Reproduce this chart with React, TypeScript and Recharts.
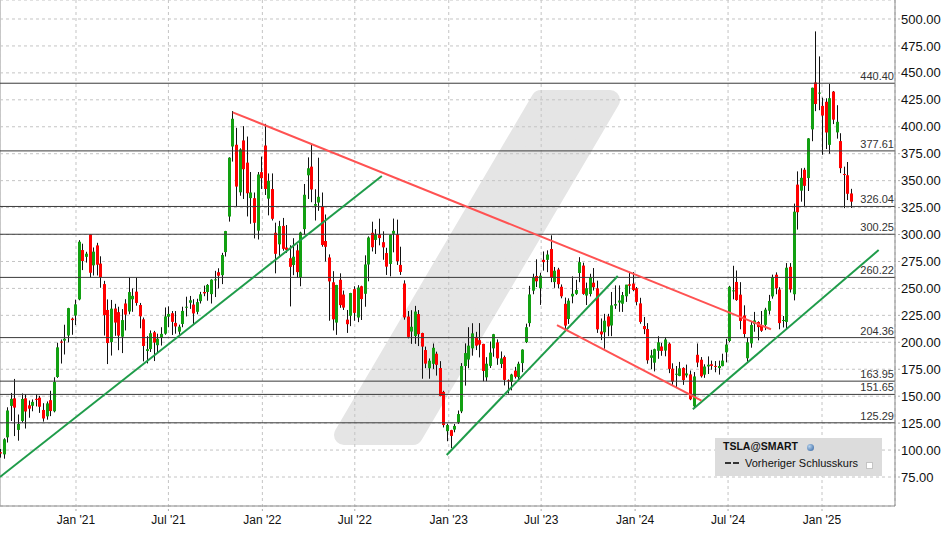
import React from 'react';
import {
  ComposedChart,
  Bar,
  XAxis,
  YAxis,
  CartesianGrid,
  ReferenceLine,
} from 'recharts';

const FONT = '"Liberation Sans", Arial, Helvetica, sans-serif';
const DAY = 86400000;

// weekly candles [open, high, low, close], one per week, first week ends Fri Aug 7 2020
const weeks2020 = [
  [98, 101, 93, 96.8], [96, 111, 92, 110], [111.8, 139.7, 107, 136.7], [141, 153, 127, 147.5],
  [148, 166, 113, 139.4], [118.7, 133, 108.7, 124.2], [127, 152.5, 125.5, 147.4], [148, 152, 120, 135.8],
  [141.5, 146, 130, 138.4], [141.1, 147, 136, 144.7], [147.5, 152, 140.5, 146.6], [148.6, 150.3, 134.5, 140.2],
  [137.2, 143.5, 126.4, 129.3], [131.3, 145.1, 128.2, 143.3], [146.3, 155, 131.5, 136.2], [136, 167.5, 135, 163.2],
  [167.8, 199.6, 167, 195.3], [200.7, 202.6, 180.3, 199.7], [201.6, 216.3, 188.7, 203.3], [206.3, 232, 200, 231.7],
  [222, 223, 207, 220.6], [224.8, 239.6, 216, 235.2],
];
const weeks2021 = [
  [239.8, 294.8, 239, 293.3], [285.6, 291.5, 267, 275.4], [279.3, 284, 274, 282.2], [300.1, 300.2, 260, 264.5],
  [271.4, 288, 262, 284.1], [289.9, 292.3, 262, 272], [273, 279.8, 250.6, 260.4], [254, 257, 206.3, 225.2],
  [230, 239.8, 179.8, 199.3], [200.2, 239.3, 187.7, 231.2], [231.3, 235.7, 206, 218.3], [228, 233, 192.7, 206.2],
  [205.2, 230.8, 190, 220.6], [236, 240, 211, 225.7], [228.6, 260.3, 226, 246.6], [239.9, 250, 228.3, 243.1],
  [247, 260, 234, 236.5], [234.6, 236.5, 213, 224.1], [221.3, 223, 182.3, 196.6], [191.9, 205.7, 180.4, 193.6],
  [193.7, 211, 191, 208.4], [209.3, 210.6, 182.6, 199.7], [197.3, 208, 190, 203.3], [204, 214, 197, 207.8],
  [208, 232.3, 207, 224], [223.7, 233.3, 214, 226.3], [227, 229, 206.8, 219], [218, 229, 208, 214.7],
  [209.9, 216.4, 207, 214.5], [217, 233, 214, 229.1], [233, 242.3, 224, 233], [236.7, 243, 231, 239],
  [235, 240, 216.2, 226.8], [228.3, 240.4, 226, 237.3], [238.2, 246.8, 236, 244.5], [246.7, 252.6, 242.8, 245.4],
  [246.7, 254, 238.6, 253.2], [244.7, 258.5, 236, 258.1], [257.7, 266.3, 242, 258.4], [265, 268.7, 250, 261.8],
  [262.3, 283, 254, 281], [283.7, 303.4, 279.6, 303.2], [316.7, 371.7, 312, 371.3], [381.7, 414.5, 367.7, 407.4],
  [383.3, 399, 326, 344.5], [339.2, 380, 336, 379], [387.3, 400.6, 333, 360.6], [366.7, 390.9, 316.8, 338.3],
  [333.8, 358, 310, 339], [333.7, 339, 296.4, 310.9], [303.6, 358, 295.4, 355.7], [357.9, 372.3, 342.3, 352.3],
];
const weeks2022 = [
  [382.6, 402.7, 336.7, 342.3], [333.3, 356.7, 317.8, 349.9], [342.2, 356.7, 313, 314.6], [301.6, 311, 264, 282.1],
  [290.9, 312.7, 280, 307.8], [308, 315.4, 285, 286.7], [287.9, 308.8, 283, 285.7], [278, 290, 233.3, 270],
  [271.7, 296.6, 262.3, 279.4], [285.3, 290.9, 260, 265.1], [260.2, 302.6, 252, 301.8], [305, 346.9, 300, 336.9],
  [355, 371.6, 333, 361.5], [363, 384.3, 330, 341.8], [326.7, 342, 313, 328.3], [329.7, 371.3, 322, 335],
  [326, 339, 288.7, 290.3], [294, 318.6, 275, 288.6], [278.7, 281.6, 220, 256.5], [255.7, 266, 211, 221.3],
  [218.3, 253.3, 206.9, 253.2], [258, 264, 232, 234.5], [244.3, 248, 230, 232.2], [221, 230, 208.7, 216.8],
  [224.6, 245.9, 215, 245.7], [249.3, 252, 220, 227.3], [223, 253, 218.7, 250.8], [252, 252.5, 220.7, 240.1],
  [245, 280.7, 233, 272.2], [272.2, 298.3, 256.6, 297.2], [301.6, 311.9, 284.3, 288.2], [295, 305, 282, 300],
  [300, 314.7, 290, 296.7], [292.9, 303, 276.6, 288.1], [282.8, 287.7, 262.5, 270.2], [272.7, 299.9, 261.2, 299.7],
  [300.7, 314.8, 283.5, 303.4], [300.1, 313.8, 271.8, 275.3], [271.8, 288.7, 262.5, 265.3], [254.5, 257.5, 221, 223.1],
  [223.9, 229, 203.7, 205], [210, 229.8, 198.6, 214.4], [205.8, 233.8, 198.6, 228.5], [226.2, 229.9, 196.5, 207.5],
  [208.6, 208.9, 166.2, 196], [192.8, 196, 176, 180.2], [175.9, 185, 166.2, 182.9], [180, 198.9, 175.3, 194.9],
  [189.4, 191.3, 169.1, 179.1], [176.1, 182.5, 149.9, 150.2], [154, 155, 121, 123.2], [117.5, 124.5, 108.2, 123.2],
];
const weeks2023 = [
  [118.5, 118.8, 101.8, 113.1], [119, 124.3, 116.5, 122.4], [125.7, 136.7, 124.3, 133.4], [135.9, 180.7, 134.3, 177.9],
  [178, 199, 159.8, 190], [184, 214, 176, 196.9], [194.4, 217.7, 187.6, 208.3], [205, 209.7, 192.8, 196.9],
  [202, 217.8, 186, 197.8], [198.5, 198.6, 163.9, 173.4], [167.5, 186.2, 163.9, 180.1], [178.1, 200.7, 176.2, 190.4],
  [194.4, 207.8, 186.6, 207.5], [199.9, 202.7, 179.1, 185.1], [179.9, 191.5, 176.1, 185], [186.3, 187.7, 160, 165.1],
  [164.7, 165.5, 152.4, 164.3], [163.2, 170.8, 155.4, 170.1], [173.7, 177.2, 166.4, 168], [167.7, 182, 165, 180.1],
  [180.7, 193.5, 172.3, 193.2], [200.1, 217.3, 199.3, 214], [217.8, 252.4, 214.5, 244.4], [247.9, 263.6, 244.6, 260.5],
  [261.5, 277, 251.3, 256.6], [250.1, 264.5, 234.7, 261.8], [276.5, 284.3, 266.5, 274.4], [276.5, 285.3, 265.1, 281.4],
  [286.6, 299.3, 255.8, 260], [255.9, 269.9, 250.5, 266.4], [267.5, 269.1, 250.2, 253.9], [251.5, 253.7, 240.8, 242.7],
  [235.7, 241.5, 212.4, 215.5], [221.6, 240.8, 217, 238.6], [242.6, 261.2, 236.2, 245], [245, 258, 244, 248.5],
  [264.3, 279, 255.8, 274.4], [271.2, 273.9, 244.1, 244.9], [243.4, 255.4, 234.6, 250.2], [244.8, 263.6, 242.6, 260.5],
  [255.3, 268.9, 248, 251.1], [250.1, 257.2, 208.7, 212], [210, 222.1, 202, 207.3], [209.3, 226.4, 194.1, 220],
  [224, 226.4, 205.7, 214.7], [215.6, 246.7, 205.7, 234.3], [234, 252.8, 231, 235.5], [236.9, 252.8, 228.3, 238.8],
  [235.8, 246.7, 228.2, 243.8], [242.7, 253.3, 237.5, 253.5], [253.8, 265.1, 245, 252.5], [254.5, 265.1, 247.4, 248.5],
];
const weeks2024 = [
  [250.1, 251.3, 234.3, 237.5], [236.1, 241.3, 217.2, 218.9], [215.1, 223.5, 207.6, 212.2], [212.3, 217.8, 180.1, 183.3],
  [185.6, 193, 175, 187.9], [181.1, 194.1, 173, 193.6], [192.1, 205.6, 184.7, 200], [196.1, 199.4, 187.5, 192],
  [192.3, 204.7, 187, 202.6], [198.7, 199.8, 171.4, 175.3], [175.5, 180.5, 160.5, 163.6], [170, 178, 157.5, 170.8],
  [168.8, 181.8, 168.5, 175.8], [176.2, 176.8, 160.5, 164.9], [169.3, 179.3, 167.3, 171.1], [170.2, 173.8, 146.3, 147.1],
  [140.6, 172.4, 138.8, 168.3], [188.4, 198.9, 176.9, 181.2], [183.8, 186.3, 167.3, 168.5], [170, 179.6, 167, 177.5],
  [177.6, 186.9, 170.6, 179.2], [179.6, 183, 174.5, 178.1], [178.1, 182.6, 172.2, 177.5], [176.1, 183, 170, 178],
  [177.9, 189.4, 177.7, 183], [190.7, 203.2, 181.4, 197.9], [201.2, 252.4, 200, 251.5], [247.7, 271, 239.9, 248.2],
  [256, 266.6, 238.5, 239.2], [244.2, 255.8, 212.1, 219.8], [224.9, 234.3, 203.9, 207.7], [185.2, 203.9, 182, 200],
  [199, 219.8, 195, 216.1], [217.1, 228.2, 209.8, 220.3], [218.8, 219.5, 201.8, 214.1], [215.3, 229, 209.7, 210.7],
  [216.2, 232, 211.3, 230.3], [229.3, 244, 225.8, 238.3], [242.6, 262.8, 240.5, 260.5], [262.7, 264.9, 244.6, 250.1],
  [249, 251.1, 212.1, 217.8], [220.1, 224.4, 213.8, 220.7], [218.9, 273.5, 212.1, 269.2], [270, 273.5, 246.2, 249],
  [244.6, 328.7, 238.9, 321.2], [346.3, 358.6, 304.6, 320.7], [340.7, 361.5, 330.5, 352.6], [360.1, 361.9, 326.4, 345.2],
  [352.4, 389.5, 340.4, 389.2], [397.6, 436.3, 386.6, 436.2], [441.1, 488.5, 414.5, 421.1], [431, 465.3, 415.4, 431.7],
  [419.4, 427, 374, 410.4],
];
const weeks2025 = [
  [423.2, 426.4, 379.3, 394.7], [383.2, 439.7, 375, 426.5], [432.6, 433.2, 402.5, 406.6], [394.8, 420, 389, 404.6],
  [386.7, 394, 357, 361.6], [356.2, 363, 324.5, 355.8], [355, 367.3, 332, 337.8], [338.1, 342.4, 324.7, 330.5],
];

const firstWeekEnd = Date.UTC(2020, 7, 7);

// horizontal support / resistance levels
const levels = [440.4, 377.61, 326.04, 300.25, 260.22, 204.36, 163.95, 151.65, 125.29];

// drawn trend lines: [date, price] pairs
const greenTrends = [
  [['2020-08-05', 75.0], ['2022-08-23', 354.3]],
  [['2022-12-28', 95.4], ['2023-11-28', 261.5]],
  [['2024-04-23', 137.8], ['2025-04-22', 285.6]],
];
const redTrends = [
  [['2021-11-04', 413.4], ['2024-09-23', 212.1]],
  [['2023-08-01', 216.0], ['2024-05-10', 145.8]],
];

const yTicks = [75, 100, 125, 150, 175, 200, 225, 250, 275, 300, 325, 350, 375, 400, 425, 450, 475, 500];
const xTickDates = [
  '2021-01-01', '2021-07-01', '2022-01-01', '2022-07-01', '2023-01-01',
  '2023-07-01', '2024-01-01', '2024-07-01', '2025-01-01',
];
const MONTHS = ['Jan', 'Feb', 'Mar', 'Apr', 'May', 'Jun', 'Jul', 'Aug', 'Sep', 'Oct', 'Nov', 'Dec'];

const jan21 = Date.UTC(2021, 0, 1);
const xDomain = [jan21 - 148.84 * DAY, jan21 + 1603.96 * DAY];
const yDomain = [48.09, 517.63];

const allWeeks = [...weeks2020, ...weeks2021, ...weeks2022, ...weeks2023, ...weeks2024, ...weeks2025];
const data = allWeeks.map(([o, h, l, c], i) => ({
  t: firstWeekEnd + i * 7 * DAY,
  o,
  h,
  l,
  c,
  range: [l, h],
}));

const toTime = (d: string) => Date.parse(d);

function Candle(props: any) {
  const { x, y, width, height } = props;
  const p = props.payload ?? props;
  if (x == null || y == null) return null;
  const top = Math.min(y, y + height);
  const full = Math.abs(height);
  const ratio = p.h > p.l ? full / (p.h - p.l) : 0;
  const cx = Math.floor(x + width / 2);
  const bodyTop = top + (p.h - Math.max(p.o, p.c)) * ratio;
  const bodyH = Math.max(1, Math.abs(p.o - p.c) * ratio);
  const up = p.c >= p.o;
  return (
    <g>
      <rect x={cx} y={top} width={1} height={full} fill="#111" />
      <rect x={cx - 1} y={bodyTop} width={3} height={bodyH} fill={up ? '#12a012' : '#ff0000'} />
    </g>
  );
}

function LevelLabel({ viewBox, text }: any) {
  if (!viewBox) return null;
  return (
    <text
      x={viewBox.x + viewBox.width - 1}
      y={viewBox.y - 3}
      textAnchor="end"
      fontSize={11}
      fontFamily={FONT}
      fill="#333"
    >
      {text}
    </text>
  );
}

// logo watermark and left frame edge, drawn underneath the chart
function Backdrop() {
  return (
    <svg width={948} height={534} style={{ position: 'absolute', left: 0, top: 0 }}>
      <polygon
        points="541,100 610,100 413,435 344,435"
        fill="#e5e5e5"
        stroke="#e5e5e5"
        strokeWidth={20}
        strokeLinejoin="round"
      />
      <line x1={0.5} y1={0} x2={0.5} y2={506} stroke="#c8c8c8" />
    </svg>
  );
}

function Legend() {
  return (
    <div
      style={{
        position: 'absolute',
        left: 715,
        top: 438,
        width: 167,
        height: 38,
        background: '#dcdcdc',
        fontFamily: FONT,
        color: '#111',
      }}
    >
      <div style={{ position: 'absolute', left: 8, top: 2, fontSize: 10.5, fontWeight: 'bold', lineHeight: '13px' }}>
        TSLA@SMART
      </div>
      <div
        style={{
          position: 'absolute',
          left: 92,
          top: 6,
          width: 7,
          height: 7,
          borderRadius: '50%',
          background: 'radial-gradient(circle at 35% 35%, #b7d3ee, #2d5f9e)',
        }}
      />
      <div style={{ position: 'absolute', left: 10, top: 24, width: 6, height: 2, background: '#333' }} />
      <div style={{ position: 'absolute', left: 18, top: 24, width: 6, height: 2, background: '#333' }} />
      <div style={{ position: 'absolute', left: 30, top: 19, fontSize: 11, lineHeight: '13px' }}>
        Vorheriger Schlusskurs
      </div>
      <div
        style={{
          position: 'absolute',
          left: 151,
          top: 24,
          width: 5,
          height: 5,
          background: '#fff',
          border: '1px solid #c4c4c4',
        }}
      />
    </div>
  );
}

export default function App() {
  return (
    <div style={{ position: 'absolute', left: 0, top: 0, width: 948, height: 534, background: '#fff' }}>
      <Backdrop />
      <div style={{ position: 'absolute', left: 0, top: 0 }}>
        <ComposedChart width={948} height={534} data={data} margin={{ top: 0, right: 0, bottom: 0, left: 0 }}>
          <CartesianGrid stroke="#c4c4c4" strokeDasharray="3 3" />
          <XAxis
            dataKey="t"
            type="number"
            domain={xDomain}
            allowDataOverflow
            ticks={xTickDates.map(toTime)}
            interval={0}
            height={28}
            tickFormatter={(v: number) => {
              const d = new Date(v);
              return `${MONTHS[d.getUTCMonth()]} '${String(d.getUTCFullYear()).slice(2)}`;
            }}
            tick={{ fontSize: 12, fill: '#111', fontFamily: FONT }}
            tickSize={5}
            tickMargin={4}
            tickLine={{ stroke: '#aaa', strokeDasharray: '2 2' }}
            axisLine={{ stroke: '#8c8c8c' }}
          />
          <YAxis
            orientation="right"
            type="number"
            domain={yDomain}
            allowDataOverflow
            ticks={yTicks}
            interval={0}
            width={53}
            tickFormatter={(v: number) => v.toFixed(2)}
            tick={{ fontSize: 13, fill: '#111', fontFamily: FONT, textAnchor: 'start' }}
            tickSize={5}
            tickMargin={1}
            tickLine={{ stroke: '#aaa', strokeDasharray: '2 2' }}
            axisLine={{ stroke: '#8c8c8c' }}
          />
          {levels.map((v) => (
            <ReferenceLine
              key={v}
              y={v}
              stroke="#3a3a3a"
              strokeWidth={1}
              label={<LevelLabel text={v.toFixed(2)} />}
            />
          ))}
          <Bar dataKey="range" barSize={3} shape={Candle} isAnimationActive={false} />
          {greenTrends.map((seg, i) => (
            <ReferenceLine
              key={'g' + i}
              segment={seg.map(([d, v]) => ({ x: toTime(d as string), y: v as number }))}
              stroke="#1f9c4a"
              strokeWidth={2}
              ifOverflow="hidden"
            />
          ))}
          {redTrends.map((seg, i) => (
            <ReferenceLine
              key={'r' + i}
              segment={seg.map(([d, v]) => ({ x: toTime(d as string), y: v as number }))}
              stroke="#ff5252"
              strokeWidth={2}
              ifOverflow="hidden"
            />
          ))}
        </ComposedChart>
      </div>
      <Legend />
    </div>
  );
}
